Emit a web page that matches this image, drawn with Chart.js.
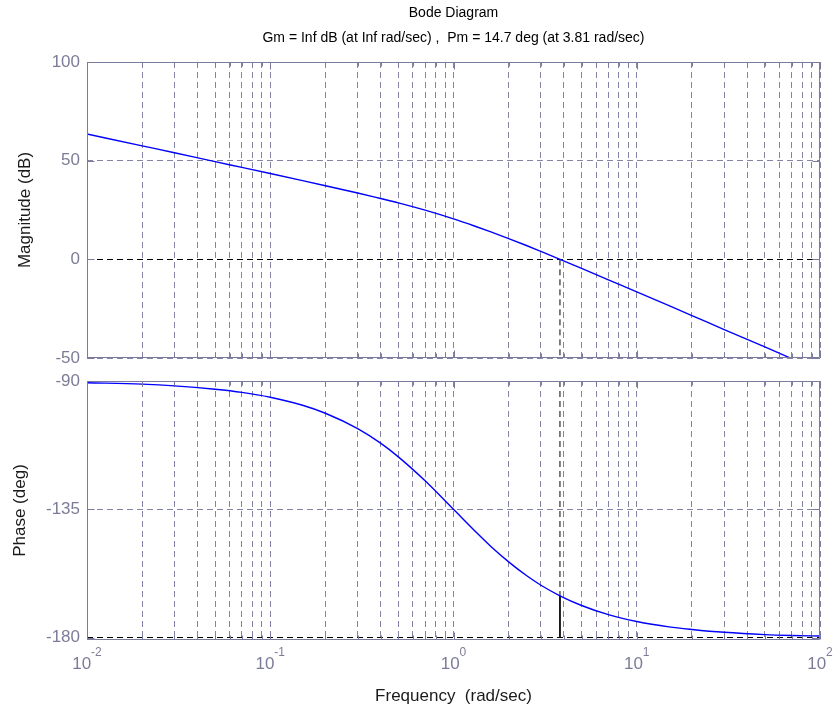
<!DOCTYPE html>
<html><head><meta charset="utf-8">
<script src="https://cdn.jsdelivr.net/npm/chart.js@4.4.1/dist/chart.umd.min.js"></script>
<style>
html,body{margin:0;padding:0;background:#fff;width:833px;height:718px;overflow:hidden}
.wrap{position:absolute;left:0;top:0;width:833px;height:718px}
</style></head><body>
<div class="wrap"><canvas id="mag"></canvas></div>
<div class="wrap"><canvas id="phase"></canvas></div>
<script>
// ---- data ----
const frequency   = [0.01, 0.02, 0.03, 0.05, 0.07, 0.1, 0.15, 0.2, 0.3, 0.4, 0.5, 0.7, 1, 1.3, 1.6, 2, 2.5, 3, 3.81, 5, 7, 10, 15, 20, 30, 50, 70, 100];
const magnitudeDb = [63.5, 57.5, 54.0, 49.5, 46.6, 43.5, 39.9, 37.3, 33.6, 30.8, 28.6, 24.9, 20.5, 16.9, 13.9, 10.5, 7.0, 4.0, 0.0, -4.6, -10.4, -16.5, -23.5, -28.5, -35.6, -44.4, -50.3, -56.5];
const phaseDeg    = [-90.6, -91.1, -91.7, -92.9, -94.0, -95.7, -98.5, -101.3, -106.7, -111.8, -116.6, -125.0, -135.0, -142.4, -148.0, -153.4, -158.2, -161.6, -165.3, -168.7, -171.9, -174.3, -176.2, -177.1, -178.1, -178.9, -179.2, -179.4];
const magTicks     = [-50, 0, 50, 100];
const phaseTicks   = [-180, -135, -90];
const decadeTicks  = [0.01, 0.1, 1, 10, 100];
const decadeExpLabels = ['-2', '-1', '0', '1', '2'];
const crossoverFreq = 3.81;
const phaseAtCrossover = -165.3;
const titleLines = ['Bode Diagram', 'Gm = Inf dB (at Inf rad/sec) ,  Pm = 14.7 deg (at 3.81 rad/sec)'];
const magLabel = 'Magnitude (dB)';
const phaseLabel = 'Phase (deg)';
const freqLabel = 'Frequency  (rad/sec)';

// ---- style ----
const FONT = "'Liberation Sans', Arial, sans-serif";
const BOX = '#7a7a9c';
const GRID = '#8484a4';
const TICKTXT = '#7c7c98';
const DASH = [6, 4];

// minor/major log grid positions
const xGrid = [];
decadeTicks.slice(0, -1).forEach(d => { for (let m = 1; m <= 9; m++) xGrid.push(parseFloat((d * m).toPrecision(3))); });
xGrid.push(decadeTicks[decadeTicks.length - 1]);

function xScale(h, titleOpts) {
  return {
    type: 'logarithmic', min: decadeTicks[0], max: decadeTicks[decadeTicks.length - 1],
    afterBuildTicks: s => { s.ticks = xGrid.map(v => ({ value: v })); },
    ticks: { display: false },
    grid: { color: GRID, drawTicks: false, lineWidth: 1 },
    border: { display: false, dash: DASH },
    title: titleOpts || { display: false },
    afterFit: s => { s.height = h; }
  };
}
function yScale(min, max, tickVals, blackVal, label, titlePad) {
  return {
    type: 'linear', min, max,
    afterBuildTicks: s => { s.ticks = tickVals.map(v => ({ value: v })); },
    ticks: { color: TICKTXT, font: { family: FONT, size: 17 }, padding: 7 },
    grid: { color: c => (c.tick && c.tick.value === blackVal) ? '#000000' : GRID, drawTicks: false, lineWidth: 1 },
    border: { display: false, dash: DASH },
    title: { display: true, text: label, color: '#1a1a1a', font: { family: FONT, size: 17 }, padding: { top: titlePad, bottom: 0 } },
    afterFit: s => { s.width = 87; }
  };
}

const framePlugin = {
  id: 'frame',
  afterDraw(chart) {
    const { ctx, chartArea: a, scales } = chart;
    const L = Math.round(a.left) + 0.5, R = Math.round(a.right) - 0.5;
    const T = Math.round(a.top) + 0.5, B = Math.round(a.bottom) - 0.5;
    ctx.save();
    ctx.strokeStyle = BOX; ctx.lineWidth = 1; ctx.setLineDash([]);
    ctx.beginPath();
    xGrid.forEach(v => {
      const x = Math.round(scales.x.getPixelForValue(v)) + 0.5;
      const len = decadeTicks.includes(v) ? 7 : 4;
      ctx.moveTo(x, T); ctx.lineTo(x, T + len);
      ctx.moveTo(x, B); ctx.lineTo(x, B - len);
    });
    scales.y.ticks.forEach(t => {
      const y = Math.round(scales.y.getPixelForValue(t.value)) + 0.5;
      ctx.moveTo(L, y); ctx.lineTo(L + 7, y);
      ctx.moveTo(R, y); ctx.lineTo(R - 7, y);
    });
    ctx.rect(L, T, R - L, B - T);
    ctx.stroke();
    ctx.restore();
  }
};

const xLabelPlugin = {
  id: 'xlabels',
  afterDraw(chart) {
    const { ctx, scales } = chart;
    ctx.save();
    ctx.fillStyle = TICKTXT;
    ctx.textBaseline = 'alphabetic';
    ctx.textAlign = 'left';
    decadeTicks.forEach((v, i) => {
      const px = scales.x.getPixelForValue(v);
      ctx.font = '17px ' + FONT;
      const wb = ctx.measureText('10').width;
      ctx.font = '12px ' + FONT;
      const we = ctx.measureText(decadeExpLabels[i]).width;
      const x0 = px - (wb + we) / 2;
      ctx.font = '17px ' + FONT;
      ctx.fillText('10', x0, 669);
      ctx.font = '12px ' + FONT;
      ctx.fillText(decadeExpLabels[i], x0 + wb, 656);
    });
    ctx.restore();
  }
};

const common = {
  responsive: true, maintainAspectRatio: false, animation: false,
  devicePixelRatio: 1,
  plugins: { legend: { display: false }, tooltip: { enabled: false } },
  elements: { point: { radius: 0 } }
};

new Chart(document.getElementById('mag'), {
  type: 'line',
  data: {
    datasets: [
      { data: frequency.map((f, i) => ({ x: f, y: magnitudeDb[i] })), borderColor: '#0000ff', borderWidth: 1.4, cubicInterpolationMode: 'monotone' },
      { data: [{ x: crossoverFreq, y: 0 }, { x: crossoverFreq, y: magTicks[0] }], borderColor: '#000000', borderWidth: 1, borderDash: DASH }
    ]
  },
  options: Object.assign({}, common, {
    layout: { padding: { top: 0, left: 0, right: 13, bottom: 718 - 358 } },
    plugins: {
      legend: { display: false }, tooltip: { enabled: false },
      title: { display: true, fullSize: false, text: titleLines, color: '#000000',
               font: { family: FONT, size: 14, weight: 'normal', lineHeight: 25 / 14 },
               padding: { top: 0.5, bottom: 11.5 } }
    },
    scales: {
      x: xScale(0),
      y: yScale(-50, 100, magTicks, 0, magLabel, 15)
    }
  }),
  plugins: [framePlugin]
});

new Chart(document.getElementById('phase'), {
  type: 'line',
  data: {
    datasets: [
      { data: frequency.map((f, i) => ({ x: f, y: phaseDeg[i] })), borderColor: '#0000ff', borderWidth: 1.4, cubicInterpolationMode: 'monotone' },
      { data: [{ x: crossoverFreq, y: phaseTicks[2] }, { x: crossoverFreq, y: phaseAtCrossover }], borderColor: '#000000', borderWidth: 1, borderDash: DASH },
      { data: [{ x: crossoverFreq, y: phaseAtCrossover }, { x: crossoverFreq, y: phaseTicks[0] }], borderColor: '#000000', borderWidth: 1 }
    ]
  },
  options: Object.assign({}, common, {
    layout: { padding: { top: 381, left: 0, right: 13, bottom: 0 } },
    scales: {
      x: xScale(78, { display: true, text: freqLabel, color: '#1a1a1a', font: { family: FONT, size: 17 }, padding: { top: 0, bottom: 11 } }),
      y: yScale(-180.8, -90, phaseTicks, -180, phaseLabel, 10)
    }
  }),
  plugins: [framePlugin, xLabelPlugin]
});
</script>
</body></html>
